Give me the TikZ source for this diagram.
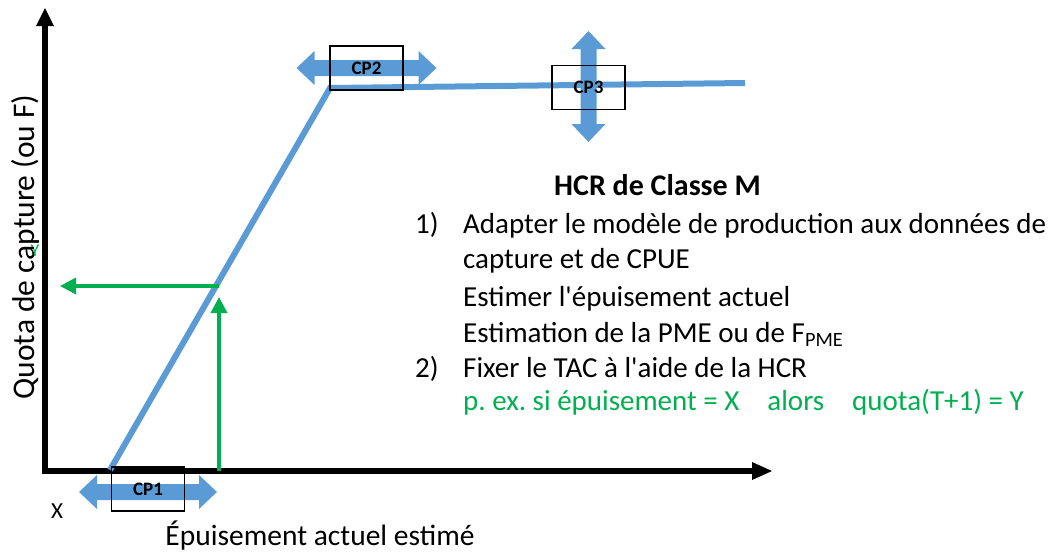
\documentclass[tikz,border=0pt]{standalone}
\usepackage{fontspec}
\setmainfont{Carlito}
\usetikzlibrary{arrows.meta}
\definecolor{cblue}{HTML}{5B9BD5}
\definecolor{cgreen}{HTML}{00B050}
\tikzset{
  curve/.style={cblue, line width=6pt},
  garrow/.style={cgreen, line width=3.5pt, -{Triangle[length=16pt,width=16pt]}},
  cpbox/.style={draw=black, line width=1.3pt, minimum width=73pt, minimum height=44pt, inner sep=0pt, font=\fontsize{19}{22}\selectfont\bfseries},
  txt/.style={anchor=base west, inner sep=0pt, font=\fontsize{29}{34}\selectfont},
}
\newcommand{\hdarrow}[4]{% cx, cy, half length, angle
  \fill[cblue, shift={(#1,#2)}, rotate=#4] (-#3,0) -- (-#3+18,-17) -- (-#3+18,-8) -- (#3-18,-8) -- (#3-18,-17) -- (#3,0) -- (#3-18,17) -- (#3-18,8) -- (-#3+18,8) -- (-#3+18,17) -- cycle;}
\frenchspacing
\begin{document}
\begin{tikzpicture}[x=1pt,y=-1pt]
\useasboundingbox (0,0) rectangle (1056,552);
% axes
\coordinate (O) at (45,471);
\coordinate (ytop) at (45,8);
\coordinate (xend) at (772,471);
\draw[line width=6.5pt] (45,474) -- (45,22);
\fill (ytop) -- (36,26) -- (54,26) -- cycle;
\draw[line width=6.5pt] (42,471) -- (754,471);
\fill (xend) -- (752,462) -- (752,480) -- cycle;
% blue curve
\coordinate (p0) at (110,470);
\coordinate (p1) at (330,88);
\coordinate (p2) at (745,83);
\draw[curve, line join=miter] (p0) -- (p1) -- (p2);
% double arrows
\hdarrow{366.5}{68}{70}{0}
\hdarrow{148}{492}{69}{0}
\hdarrow{588.5}{86.5}{55.5}{90}
% boxes
\node[cpbox] (cp2) at (366.5,68) {CP2};
\node[cpbox] (cp3) at (588.5,87.5) {CP3};
\node[cpbox] (cp1) at (148,489) {CP1};
% green arrows
\coordinate (gx) at (219,471);
\coordinate (gm) at (219,286);
\coordinate (gy) at (60,286);
\draw[garrow] (gx) -- (219,297);
\draw[garrow] (gm) -- (gy);
% labels
\node[cgreen, font=\fontsize{18}{20}\selectfont, inner sep=0pt] (ylab) at (35,251) {Y};
\node[font=\fontsize{23}{26}\selectfont, inner sep=0pt] (xlab) at (57,511) {X};
\node[rotate=90, font=\fontsize{31.5}{36}\selectfont, inner sep=0pt] (yaxlab) at (26,247) {Quota de capture (ou F)};
\node[font=\fontsize{29.5}{34}\selectfont, inner sep=0pt, anchor=base] (xaxlab) at (320,545) {Épuisement actuel estimé};
% text block
\node[txt, anchor=base, font=\fontsize{30}{34}\selectfont\bfseries] (title) at (657.5,195) {HCR de Classe M};
\node[txt] (n1) at (415,233) {1)};
\node[txt] (l1) at (463,233) {Adapter le modèle de production aux données de};
\node[txt] (l2) at (463,268) {capture et de CPUE};
\node[txt] (l3) at (463,306) {Estimer l\textquotesingle épuisement actuel};
\node[txt] (l4) at (463,342) {Estimation de la PME ou de F\textsubscript{PME}};
\node[txt] (n2) at (415,377) {2)};
\node[txt] (l5) at (463,377) {Fixer le TAC à l\textquotesingle aide de la HCR};
\node[txt, cgreen] (l6) at (463,410) {p. ex. si épuisement = X\hspace{28pt}alors\hspace{28pt}quota(T+1) = Y};
\end{tikzpicture}
\end{document}
